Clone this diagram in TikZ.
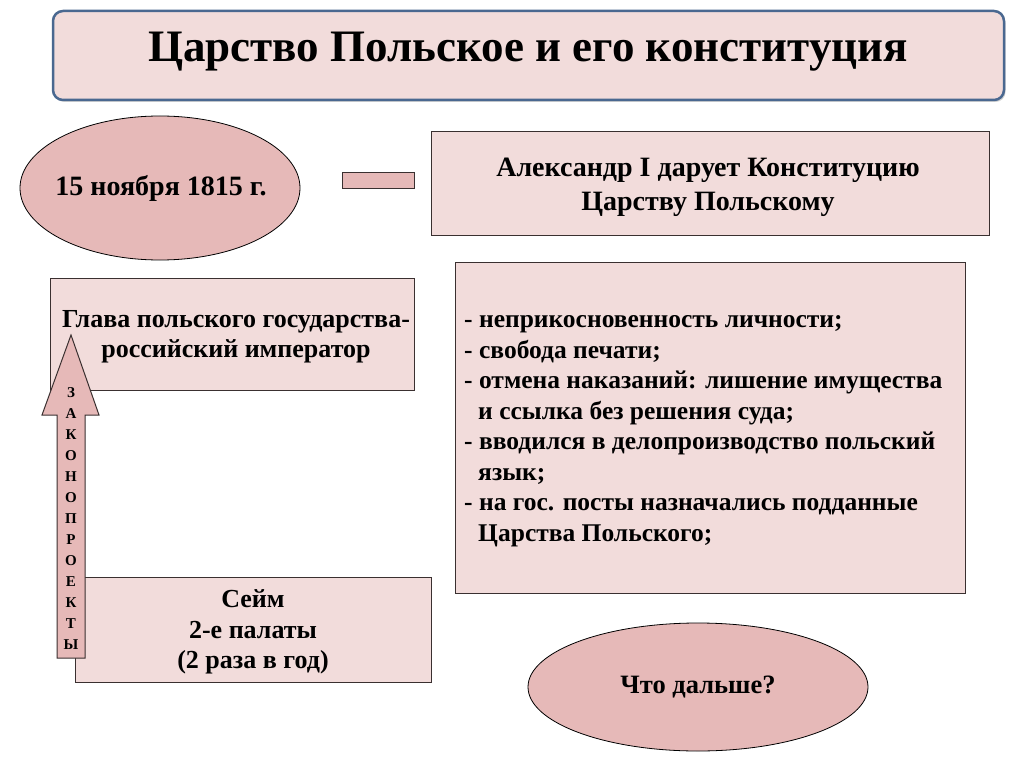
\documentclass[tikz,border=0pt]{standalone}
\usepackage{fontspec}
\setmainfont{Liberation Serif}
\usetikzlibrary{shadows,shapes.geometric}
\definecolor{boxfill}{HTML}{F2DCDB}
\definecolor{ellfill}{HTML}{E6B9B8}
\definecolor{titleline}{HTML}{4A6890}
\definecolor{boxline}{HTML}{3A3030}
\tikzset{
  panel/.style={draw=boxline, line width=1pt, fill=boxfill, rectangle, inner sep=0pt},
  oval/.style={draw=black, line width=0.8pt, fill=ellfill, ellipse, inner sep=0pt},
  txt/.style={font=\fontsize{26}{30.5}\selectfont\bfseries, align=center, inner sep=0pt},
}
\begin{document}
\begin{tikzpicture}[x=1pt,y=-1pt]
\useasboundingbox (0,0) rectangle (1024,767);
\fill[white] (0,0) rectangle (1024,767);
% title
\draw[titleline, line width=2.5pt, fill=boxfill, rounded corners=10pt, drop shadow={shadow xshift=1.5pt, shadow yshift=-2pt, opacity=0.35}] (53,11) rectangle (1004,100);
\node[font=\fontsize{45}{48}\selectfont\bfseries, inner sep=0pt] (title) at (528,52) {Царство Польское и его конституция};
% date ellipse
\node[oval, minimum width=280pt, minimum height=144pt] (date) at (160,188) {};
\node[txt, font=\fontsize{28}{32}\selectfont\bfseries] (datet) at (161,188) {15 ноября 1815 г.};
% small bar
\node[draw=boxline, line width=1pt, fill=ellfill, minimum width=72pt, minimum height=16pt, inner sep=0pt] (bar) at (378,181) {};
% Alexander box
\draw[panel] (431,132) rectangle (989,235);
\node[txt, font=\fontsize{28}{34}\selectfont\bfseries] (alex) at (708,187) {Александр I дарует Конституцию\\Царству Польскому};
% head of state box
\draw[panel] (50,278) rectangle (414,390);
\node[txt] (head) at (236,337) {Глава польского государства-\\российский император};
% list box
\draw[panel] (455,262) rectangle (965,593);
\node[font=\fontsize{25.5}{30.5}\selectfont\bfseries, align=left, inner sep=0pt, anchor=west] (list) at (464,431) {- неприкосновенность личности;\\- свобода печати;\\- отмена наказаний: лишение имущества\\\hspace*{0.55em}и ссылка без решения суда;\\- вводился в делопроизводство польский\\\hspace*{0.55em}язык;\\- на гос. посты назначались подданные\\\hspace*{0.55em}Царства Польского;};
% Sejm box
\draw[panel] (75,577) rectangle (431,682);
\node[txt] (sejm) at (253,632) {Сейм\\2-е палаты\\(2 раза в год)};
% next ellipse
\node[oval, minimum width=340pt, minimum height=128pt] (next) at (698,687) {};
\node[txt, font=\fontsize{26.5}{30}\selectfont\bfseries] (nextt) at (698,687) {Что дальше?};
% arrow
\draw[boxline, line width=1pt, fill=ellfill] (71,335) -- (99,415) -- (85,415) -- (85,658) -- (57,658) -- (57,415) -- (42,415) -- cycle;
\node[font=\fontsize{15}{21}\selectfont\bfseries, align=center, inner sep=0pt] (bills) at (71,519) {З\\А\\К\\О\\Н\\О\\П\\Р\\О\\Е\\К\\Т\\Ы};
\end{tikzpicture}
\end{document}
